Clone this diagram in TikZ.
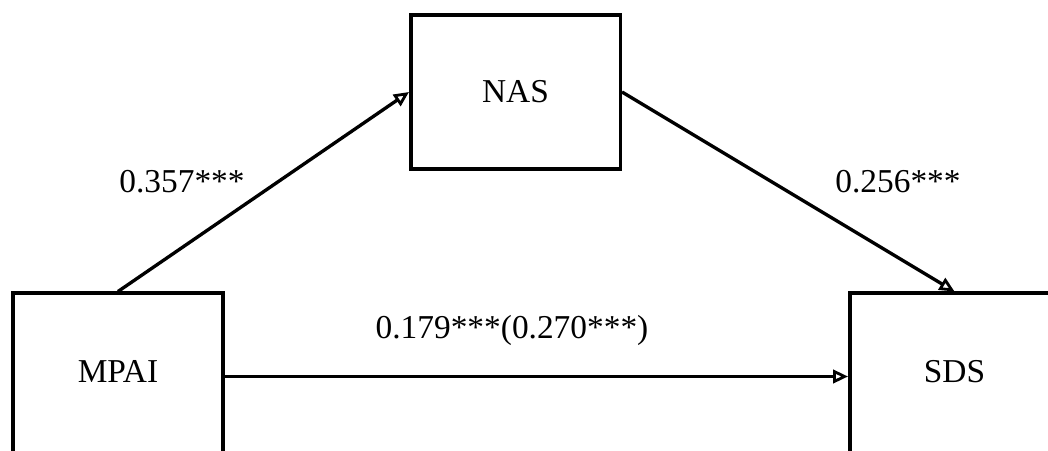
\documentclass[tikz,border=0pt]{standalone}
\usepackage{fontspec}
\setmainfont{Liberation Serif}
\usetikzlibrary{arrows.meta,positioning}

\tikzset{
  varbox/.style={draw,line width=2pt,minimum width=4.19cm,minimum height=3.09cm,inner sep=0pt},
  lowbox/.style={varbox,minimum height=0pt,text height=1.78cm,text depth=1.75cm},
  link/.style={line width=1.9pt,-{Triangle[open,length=0.3cm,width=0.27cm,line width=1.6pt]}},
  coef/.style={inner sep=0pt}
}

\begin{document}
\begin{tikzpicture}[font=\fontsize{19}{22}\selectfont]
\clip (0,0) rectangle (20.96,9);
\useasboundingbox (0,0) rectangle (20.96,9);
% variables
\node[varbox] (nas)  at (10.31,7.16) {NAS};
\node[lowbox] (mpai) at (2.36,1.37) {MPAI};
\node[lowbox] (sds)  at (19.09,1.37) {SDS};
% paths
\draw[link] (mpai.north) -- (nas.west);
\draw[link] (nas.east) -- (sds.north);
\draw[link] ([yshift=0.1cm]mpai.east) -- ([yshift=0.1cm]sds.west);
% coefficients
\node[coef] (a)  at (3.64,5.36) {0.357***};
\node[coef] (b)  at (17.96,5.36) {0.256***};
\node[coef] (cp) at (10.24,2.40) {0.179***(0.270***)};
\end{tikzpicture}
\end{document}
